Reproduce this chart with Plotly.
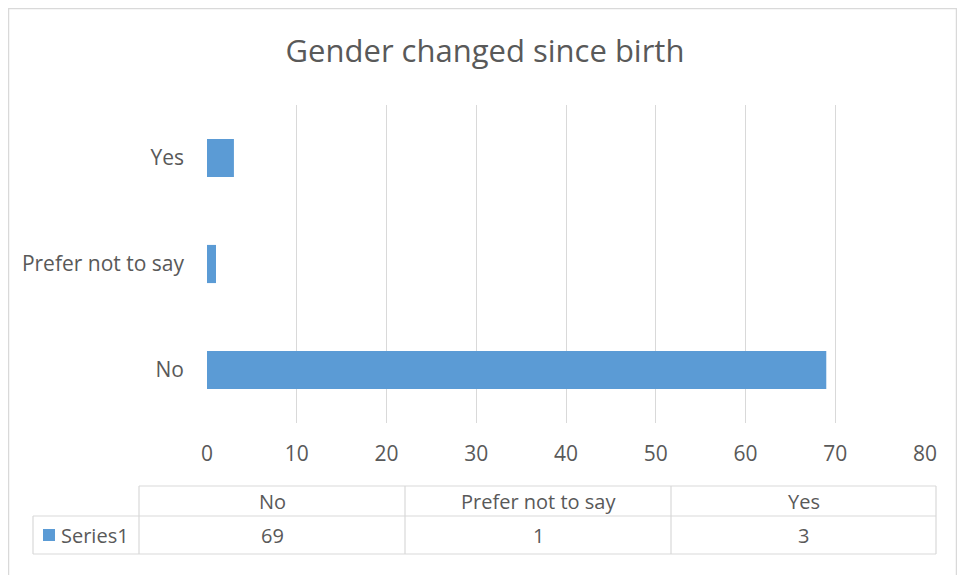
import plotly.graph_objects as go

categories = ["No", "Prefer not to say", "Yes"]
counts = [69, 1, 3]
series_name = "Series1"
x_ticks = [0, 10, 20, 30, 40, 50, 60, 70, 80]

# the page body has an 8px margin, so the figure sits at (8, 8) in the window
OFF = 8
W, H = 965 - 2 * OFF, 583 - 2 * OFF
L, T = 207 - OFF, 105 - OFF
R = W - (925 - OFF)
B = H - (423 - OFF)
PW, PH = W - L - R, H - T - B
GRAY = "#595959"
LINE = "#d9d9d9"
BLUE = "#5b9bd5"
FONT = "Open Sans"


def px_x(p):
    # window pixel -> paper x
    return (p - OFF - L) / PW


def px_y(p):
    # window pixel -> paper y
    return (H - B - (p - OFF)) / PH


fig = go.Figure()
fig.add_trace(go.Bar(
    x=counts, y=categories, orientation="h", name=series_name,
    marker=dict(color=BLUE, line=dict(width=0)),
))

shapes = []
# outer chart frame (clipped by the figure edge)
shapes.append(dict(type="rect", xref="paper", yref="paper",
                   x0=px_x(OFF + 0.5), x1=px_x(OFF + W - 0.5),
                   y0=px_y(OFF + 0.5), y1=px_y(OFF + H + 20),
                   line=dict(color=LINE, width=1.5), layer="below"))

# data table grid
cols = [139, 405, 671, 936]
r_top, r_mid, r_bot = 486, 516, 554
left = 33
hl = [(r_top, cols[0], cols[-1]), (r_mid, left, cols[-1]), (r_bot, left, cols[-1])]
for y, xa, xb in hl:
    shapes.append(dict(type="line", xref="paper", yref="paper",
                       x0=px_x(xa), x1=px_x(xb), y0=px_y(y), y1=px_y(y),
                       line=dict(color=LINE, width=1.2)))
shapes.append(dict(type="line", xref="paper", yref="paper",
                   x0=px_x(left), x1=px_x(left), y0=px_y(r_mid), y1=px_y(r_bot),
                   line=dict(color=LINE, width=1.2)))
for c in cols:
    shapes.append(dict(type="line", xref="paper", yref="paper",
                       x0=px_x(c), x1=px_x(c), y0=px_y(r_top), y1=px_y(r_bot),
                       line=dict(color=LINE, width=1.2)))
# legend key in table
shapes.append(dict(type="rect", xref="paper", yref="paper",
                   x0=px_x(43), x1=px_x(55), y0=px_y(529), y1=px_y(541),
                   fillcolor=BLUE, line=dict(width=0)))

annotations = []
tfont = dict(size=20, color=GRAY, family=FONT)
for i, (cat, val) in enumerate(zip(categories, counts)):
    cx = px_x((cols[i] + cols[i + 1]) / 2)
    annotations.append(dict(text=cat, x=cx, y=px_y((r_top + r_mid) / 2),
                            xref="paper", yref="paper", showarrow=False,
                            xanchor="center", yanchor="middle", font=tfont))
    annotations.append(dict(text=str(val), x=cx, y=px_y((r_mid + r_bot) / 2),
                            xref="paper", yref="paper", showarrow=False,
                            xanchor="center", yanchor="middle", font=tfont))
annotations.append(dict(text=series_name, x=px_x(59), y=px_y((r_mid + r_bot) / 2),
                        xref="paper", yref="paper", showarrow=False,
                        xanchor="left", yanchor="middle", font=tfont))

fig.update_layout(
    width=W, height=H,
    margin=dict(l=L, r=R, t=T, b=B),
    paper_bgcolor="white", plot_bgcolor="white",
    showlegend=False,
    bargap=0.64,
    title=dict(text="Gender changed since birth", xref="container",
               x=(485 - OFF) / W, xanchor="center",
               yref="container", y=1 - (51 - OFF) / H, yanchor="middle",
               font=dict(size=31, color=GRAY, family=FONT)),
    xaxis=dict(range=[0, 80], tickvals=x_ticks, showgrid=True, gridcolor=LINE,
               gridwidth=1.2, zeroline=False, showline=False, ticks="",
               ticklabelstandoff=16,
               tickfont=dict(size=21, color=GRAY, family=FONT)),
    yaxis=dict(showgrid=False, zeroline=False, showline=False, ticks="",
               ticklabelstandoff=22,
               tickfont=dict(size=21, color=GRAY, family=FONT)),
    shapes=shapes,
    annotations=annotations,
)

fig.write_html("out.html")
